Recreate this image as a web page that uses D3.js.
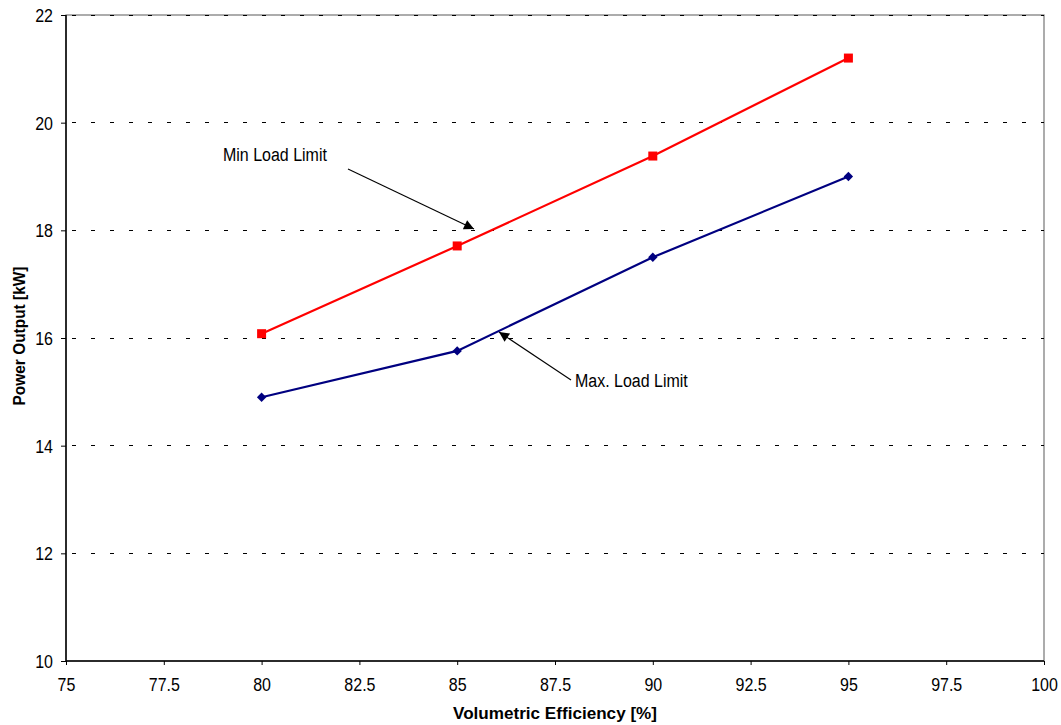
<!DOCTYPE html>
<html><head><meta charset="utf-8">
<script src="https://cdn.jsdelivr.net/npm/d3@7"></script>
<style>body{margin:0;background:#fff}svg{display:block}text{font-family:Arial,"Liberation Sans",sans-serif}</style>
</head><body><svg id="c" width="1061" height="725"></svg>
<script>
const xValues = [80, 85, 90, 95];
const minLoad = [16.08, 17.71, 19.38, 21.2];
const maxLoad = [14.9, 15.76, 17.5, 19.0];
const xTicks = [75, 77.5, 80, 82.5, 85, 87.5, 90, 92.5, 95, 97.5, 100];
const yTicks = [10, 12, 14, 16, 18, 20, 22];

const svg = d3.select('#c');
const L = 66, R = 1044, T = 15, B = 661;
const x = d3.scaleLinear().domain([75, 100]).range([L, R]);
const y = d3.scaleLinear().domain([10, 22]).range([B, T]);

svg.append('rect').attr('x', L).attr('y', T).attr('width', R - L).attr('height', B - T)
  .attr('fill', 'none').attr('stroke', '#808080').attr('stroke-width', 1.3);

svg.append('g').selectAll('line').data(yTicks.filter(d => d > 10)).join('line')
  .attr('x1', L).attr('x2', R).attr('y1', d => y(d)).attr('y2', d => y(d))
  .attr('stroke', '#000').attr('stroke-width', 1).attr('stroke-dasharray', '4,15')
  .attr('stroke-dashoffset', -6).attr('shape-rendering', 'crispEdges');

const yAxis = svg.append('g').attr('transform', `translate(${L},0)`)
  .call(d3.axisLeft(y).tickValues(yTicks).tickSize(5).tickPadding(8).tickFormat(d3.format('d')));
const xAxis = svg.append('g').attr('transform', `translate(0,${B})`)
  .call(d3.axisBottom(x).tickValues(xTicks).tickSize(4).tickPadding(13).tickFormat(d => String(d)));
[yAxis, xAxis].forEach(a => {
  a.select('.domain').attr('stroke', '#000').attr('stroke-width', 1.5);
  a.selectAll('.tick line').attr('stroke', '#000');
  a.selectAll('text').attr('font-size', 16).attr('fill', '#000')
    .attr('font-family', 'Arial, "Liberation Sans", sans-serif');
});
yAxis.selectAll('text').attr('x', -13).attr('y', 0).attr('dy', '0.36em').attr('transform', 'scale(1,1.1)');
xAxis.selectAll('text').attr('y', 27.3).attr('dy', 0).attr('transform', 'scale(1,1.1)');
xAxis.select('.domain').attr('d', `M${L},0H${R}`);
yAxis.select('.domain').attr('d', `M0,${B}V${T}`);

const line = d3.line().x(d => x(d[0])).y(d => y(d[1]));
const minPts = xValues.map((v, i) => [v, minLoad[i]]);
const maxPts = xValues.map((v, i) => [v, maxLoad[i]]);
svg.append('path').datum(minPts).attr('d', line).attr('fill', 'none').attr('stroke', '#FF0000').attr('stroke-width', 2.2);
svg.append('path').datum(maxPts).attr('d', line).attr('fill', 'none').attr('stroke', '#000080').attr('stroke-width', 2.2);
svg.append('g').selectAll('rect').data(minPts).join('rect')
  .attr('x', d => x(d[0]) - 4.5).attr('y', d => y(d[1]) - 4.5).attr('width', 9).attr('height', 9).attr('fill', '#FF0000');
svg.append('g').selectAll('path').data(maxPts).join('path')
  .attr('d', d3.symbol().type(d3.symbolDiamond2).size(56))
  .attr('transform', d => `translate(${x(d[0])},${y(d[1])})`)
  .attr('fill', '#000080');

svg.append('text').attr('x', (L + R) / 2 + 0).attr('y', 719).attr('text-anchor', 'middle')
  .attr('font-size', 17).attr('font-weight', 'bold').attr('textLength', 204).attr('lengthAdjust', 'spacingAndGlyphs')
  .text('Volumetric Efficiency [%]');
svg.append('text').attr('transform', `translate(25,336) rotate(-90)`).attr('text-anchor', 'middle')
  .attr('font-size', 17).attr('font-weight', 'bold').attr('textLength', 139).attr('lengthAdjust', 'spacingAndGlyphs')
  .text('Power Output [kW]');

const defs = svg.append('defs');
defs.append('marker').attr('id', 'ah').attr('viewBox', '0 0 10 10').attr('refX', 10).attr('refY', 5)
  .attr('markerWidth', 16).attr('markerHeight', 10).attr('markerUnits', 'userSpaceOnUse').attr('orient', 'auto')
  .append('path').attr('d', 'M0,0L10,5L0,10z').attr('fill', '#000');
svg.append('text').attr('transform', 'translate(223,161) scale(1,1.1)').attr('font-size', 16).text('Min Load Limit');
svg.append('line').attr('x1', 348).attr('y1', 169).attr('x2', 474).attr('y2', 229)
  .attr('stroke', '#000').attr('stroke-width', 1.1).attr('marker-end', 'url(#ah)');
svg.append('text').attr('transform', 'translate(575,387) scale(1,1.1)').attr('font-size', 16).text('Max. Load Limit');
svg.append('line').attr('x1', 571).attr('y1', 380).attr('x2', 499).attr('y2', 332)
  .attr('stroke', '#000').attr('stroke-width', 1.1).attr('marker-end', 'url(#ah)');
</script></body></html>
